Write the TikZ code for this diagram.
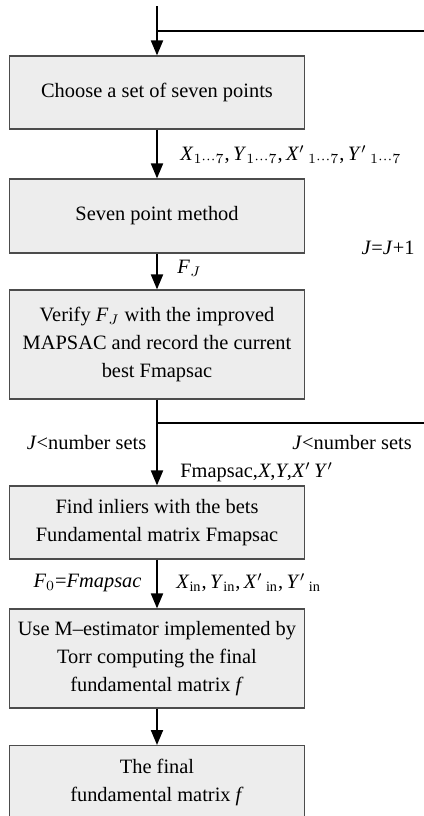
\documentclass[tikz,border=0pt]{standalone}
\usepackage{fontspec}
\setmainfont{Liberation Serif}
\usepackage{xcolor}
\usetikzlibrary{arrows.meta}

\definecolor{boxgray}{HTML}{EDEDED}
\tikzset{
  stepbox/.style={draw=black!70, fill=boxgray, line width=0.6pt, minimum width=147.5pt, align=center, inner sep=0pt},
  flow/.style={line width=1pt, -{Triangle[length=7.5pt,width=6pt]}},
  link/.style={line width=0.75pt},
  lbl/.style={inner sep=0pt}
}

\begin{document}
\begin{tikzpicture}[x=0.5pt,y=-0.5pt,font=\fontsize{10.2}{14}\selectfont]
        \useasboundingbox (0,0) rectangle (424,816);
        \clip (0,0) rectangle (424,816);

        \node[stepbox, minimum height=36.5pt] (choose) at (157,92.5) {Choose a set of seven points};
        \node[stepbox, minimum height=37pt] (seven) at (157,216) {Seven point method};
        \node[stepbox, minimum height=54.5pt] (verify) at (157,344.5) {Verify \textit{F}$_J$ with the improved\\MAPSAC and record the current\\best Fmapsac};
        \node[stepbox, minimum height=36.5pt] (inliers) at (157,522.5) {Find inliers with the bets\\Fundamental matrix Fmapsac};
        \node[stepbox, minimum height=49.5pt] (mest) at (157,658.5) {Use M--estimator implemented by\\Torr computing the final\\fundamental matrix \textit{f}};
        \node[stepbox, minimum height=37pt, anchor=north] (final) at (157,745) {The final\\fundamental matrix \textit{f}};

        \coordinate (start) at (157,6);
        \coordinate (loopin) at (157,31);
        \coordinate (loopend) at (424,31);
        \coordinate (split) at (157,423);
        \coordinate (splitend) at (424,423);

        \draw[flow] (start) -- (choose);
        \draw[link] (loopin) -- (loopend);
        \draw[flow] (choose) -- (seven);
        \draw[flow] (seven) -- (verify);
        \draw[link, line width=1pt] (verify) -- (split);
        \draw[flow] (split) -- (inliers);
        \draw[link] (split) -- (splitend);
        \draw[flow] (inliers) -- (mest);
        \draw[flow] (mest) -- (final);

        \node[lbl, anchor=west] (pts) at (180,155) {\textit{X}$_{1\cdots7}$,\,\textit{Y}$_{1\cdots7}$,\,\textit{X}$'$\,$_{1\cdots7}$,\,\textit{Y}$'$\,$_{1\cdots7}$};
        \node[lbl, anchor=west] (fj) at (177,268) {\textit{F}$_J$};
        \node[lbl] (incr) at (388,248) {\textit{J}=\textit{J}+1};
        \node[lbl] (condl) at (86.5,443) {\textit{J}<number sets};
        \node[lbl] (condr) at (352,443) {\textit{J}<number sets};
        \node[lbl, anchor=west] (best) at (180,472) {Fmapsac,\textit{X},\textit{Y},\textit{X}$'$\,\textit{Y}$'$};
        \node[lbl] (fzero) at (87.5,583) {\textit{F}$_0$=\textit{Fmapsac}};
        \node[lbl, anchor=west] (inl) at (176,583) {\textit{X}$_{\rm in}$,\,\textit{Y}$_{\rm in}$,\,\textit{X}$'$\,$_{\rm in}$,\,\textit{Y}$'$\,$_{\rm in}$};
    \end{tikzpicture}
\end{document}
